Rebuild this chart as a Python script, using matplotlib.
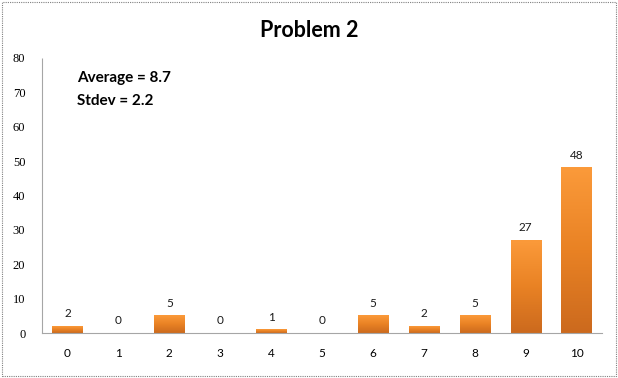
import numpy as np
import matplotlib
matplotlib.use("Agg")
import matplotlib.pyplot as plt
from matplotlib.colors import LinearSegmentedColormap
from matplotlib.patches import Rectangle

# scores and number of students per score
scores = [0, 1, 2, 3, 4, 5, 6, 7, 8, 9, 10]
counts = [2, 0, 5, 0, 1, 0, 5, 2, 5, 27, 48]
average = 8.7
stdev = 2.2

fig = plt.figure(figsize=(6.18, 3.78), dpi=100)
ax = fig.add_axes([0.068, 0.119, 0.906, 0.728])

# orange gradient bars, darker at the bottom
cmap = LinearSegmentedColormap.from_list("orng", ["#CC6A1E", "#E98224", "#FB9A3A"])
grad = np.linspace(0, 1, 100).reshape(-1, 1)
width = 0.59
for x, c in zip(scores, counts):
    if c > 0:
        ax.imshow(grad, cmap=cmap, origin="lower", aspect="auto",
                  extent=(x - width / 2, x + width / 2, 0, c), zorder=2)
    ax.annotate(str(c), (x, c), xytext=(0, 5), textcoords="offset points",
                ha="center", va="bottom", fontsize=8.5, family="Lato", color="#1a1a1a")

ax.set_xlim(-0.5, 10.5)
ax.set_ylim(0, 80)
ax.set_xticks(scores)
ax.set_xticklabels([str(s) for s in scores], family="Lato", fontsize=8.5)
ax.set_yticks(range(0, 81, 10))
ax.set_yticklabels([str(v) for v in range(0, 81, 10)], family="Liberation Serif", fontsize=9)
ax.tick_params(length=0)
ax.tick_params(axis="x", pad=11)
ax.tick_params(axis="y", pad=12)

for s in ["top", "right"]:
    ax.spines[s].set_visible(False)
for s in ["left", "bottom"]:
    ax.spines[s].set_color("#a6a6a6")
    ax.spines[s].set_linewidth(0.8)
ax.spines["left"].set_linestyle((0, (1, 1)))

ax.text(0.062, 0.925, "Average = %.1f" % average, transform=ax.transAxes,
        fontsize=11, fontweight="bold", family="Lato", va="center")
ax.text(0.062, 0.842, "Stdev = %.1f" % stdev, transform=ax.transAxes,
        fontsize=11, fontweight="bold", family="Lato", va="center")

fig.text(0.5, 0.92, "Problem 2", ha="center", va="center",
         fontsize=15.5, fontweight="bold", family="Lato")

# dotted outer border
fig.patches.append(Rectangle((0.003, 0.004), 0.994, 0.992, transform=fig.transFigure,
                             fill=False, edgecolor="#808080", linewidth=0.8,
                             linestyle=(0, (1, 1))))

fig.savefig("out.png", dpi=100)
